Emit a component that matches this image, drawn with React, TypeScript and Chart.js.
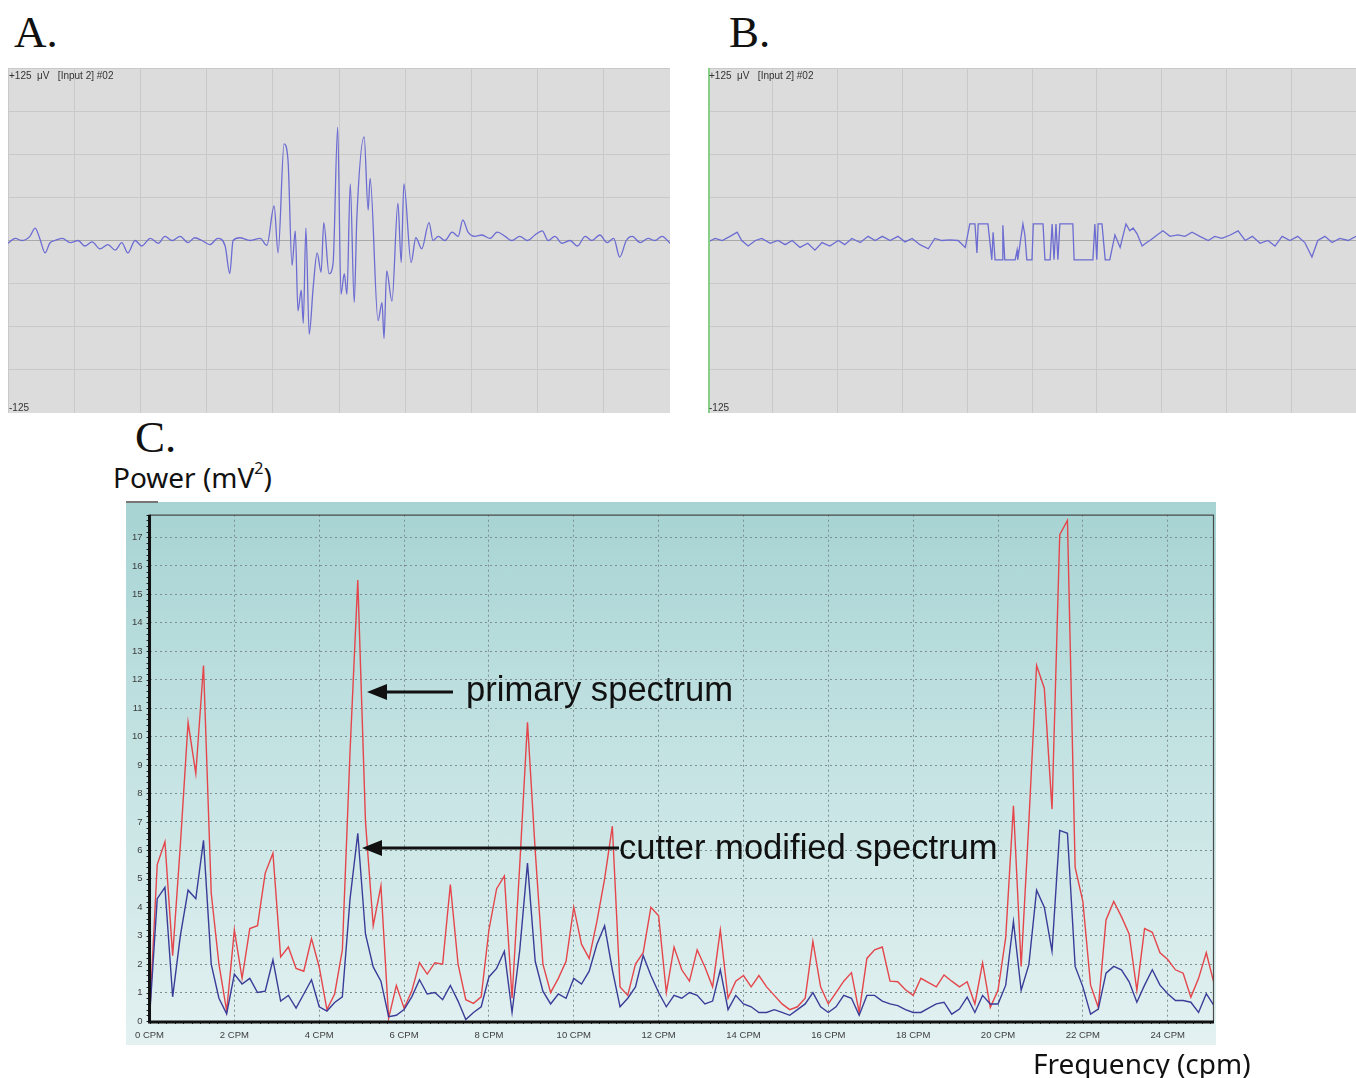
import React, { useEffect, useRef } from 'react';
import { Chart, registerables } from 'chart.js';

Chart.register(...registerables);

// ---------- Panel A: raw trace (time in grid divisions, amplitude in µV) ----------
const traceATime = [
  0.00, 0.11, 0.21, 0.33, 0.41, 0.48, 0.56, 0.63, 0.71, 0.82,
  0.94, 1.06, 1.16, 1.27, 1.39, 1.51, 1.62, 1.72, 1.81, 1.92,
  2.02, 2.15, 2.27, 2.37, 2.48, 2.60, 2.72, 2.82, 2.93, 3.05,
  3.17, 3.28, 3.35, 3.40, 3.50, 3.66, 3.81, 3.91, 4.02, 4.08,
  4.17, 4.23, 4.29, 4.34, 4.38, 4.43, 4.46, 4.50, 4.55, 4.61,
  4.67, 4.73, 4.77, 4.85, 4.91, 4.98, 5.03, 5.08, 5.12, 5.17,
  5.23, 5.27, 5.38, 5.44, 5.47, 5.59, 5.65, 5.68, 5.72, 5.80,
  5.89, 5.94, 5.98, 6.09, 6.16, 6.25, 6.36, 6.42, 6.50, 6.60,
  6.71, 6.80, 6.87, 6.95, 7.05, 7.16, 7.28, 7.39, 7.51, 7.61,
  7.73, 7.85, 7.96, 8.07, 8.16, 8.26, 8.37, 8.49, 8.60, 8.72,
  8.82, 8.94, 9.05, 9.15, 9.24, 9.34, 9.43, 9.55, 9.67, 9.77,
  9.88, 10.0,
];
const traceAVolt = [
  -2, 1.5, 0, 3, 9, 1.5, -9, -2, 0, 1.5,
  -1.5, 0, -4, -1, -6, -3, -7, -1.5, -9, 0,
  -4, 1.5, -2, 3, 0, 3, -1.5, 2, 0, -3,
  1.5, -4, -24, 0, 2, 0, 1.5, -3.6, 25, -9,
  70, 58, -18, 7, -51, -36, -60, 9, -68, -34,
  -9, -23, 13, -24, -17, 82, -39, -24, -39, 41,
  -45, 17, 75, 22, 45, -58, -45, -71, -22, -44,
  27, -16, 41, -16, 2, -6, 13, 0, 3, 0,
  6, 3, 15, 6, 3, 4, 1.5, 6, 3, 0,
  3, 0, 4, 7, 0, 3, -2, 0, -4, 3,
  0, 4, -1.5, 1.5, -12, 0, 3, -1.5, 1.5, 0,
  3, -2,
];

// ---------- Panel B: cutter-modified trace ----------
const traceBTime = [
  0.00, 0.11, 0.22, 0.34, 0.45, 0.52, 0.62, 0.73, 0.83, 0.96,
  1.08, 1.19, 1.30, 1.42, 1.54, 1.65, 1.76, 1.88, 2.01, 2.11,
  2.22, 2.35, 2.47, 2.58, 2.69, 2.81, 2.93, 3.04, 3.15, 3.27,
  3.40, 3.50, 3.61, 3.73, 3.86, 3.97, 4.04, 4.12, 4.15, 4.17,
  4.32, 4.38, 4.40, 4.43, 4.54, 4.55, 4.58, 4.74, 4.77, 4.78,
  4.86, 4.89, 4.92, 5.00, 5.02, 5.17, 5.20, 5.28, 5.31, 5.34,
  5.37, 5.40, 5.43, 5.63, 5.65, 5.94, 5.97, 6.00, 6.02, 6.08,
  6.13, 6.20, 6.28, 6.36, 6.45, 6.51, 6.56, 6.62, 6.70, 6.77,
  6.82, 6.93, 7.02, 7.13, 7.25, 7.36, 7.47, 7.59, 7.72, 7.82,
  7.93, 8.06, 8.18, 8.29, 8.40, 8.52, 8.64, 8.75, 8.86, 8.98,
  9.10, 9.21, 9.32, 9.41, 9.52, 9.63, 9.75, 9.88, 10.0,
];
const traceBVolt = [
  -1, 1.5, 0, 3, 6, 0, -4, 0, 1.5, -2,
  0, -3, 0, -5, -2, -7, -1.5, -4, 0, -3,
  1.5, -1.5, 3, 0, 3, 0, 3, -1, 1.5, -3,
  -6, 1.5, 0, 0.5, 0, -5, 12, 12, -9, 12,
  12, -14, 6, -14, -14, 11, -14, -14, -7, -14,
  12, 4, -14, -14, 12, 12, -14, -14, 12, -14,
  12, -14, 12, 12, -14, -14, 12, -14, 12, 12,
  -14, -14, 4, -5, 12, 7, 9, 5, -4, -1.5,
  0, 4, 7, 3, 4, 3, 6, 3, 0, 3,
  1.5, 4, 7, 0, 3, -2, 0, -4, 3, 0,
  3, -1.5, -12, 0, 3, -1.5, 1.5, 0, 3,
];

// ---------- Panel C: power spectra (mV²), one value per frequency bin ----------
const FREQ_RESOLUTION_CPM = 2 / 11;
const xTickCpm = [0, 2, 4, 6, 8, 10, 12, 14, 16, 18, 20, 22, 24];
const primarySpectrum = [
  0.1, 5.5, 6.3, 2.3, 6.2, 10.5, 8.7, 12.5, 4.5, 2.0,
  0.35, 3.2, 1.5, 3.25, 3.35, 5.2, 5.9, 2.25, 2.6, 1.85,
  1.75, 2.9, 1.9, 0.4, 0.95, 2.5, 9.5, 15.5, 7.0, 3.35,
  4.75, 0.1, 1.25, 0.45, 1.05, 2.05, 1.65, 2.05, 2.0, 4.8,
  2.0, 0.75, 0.62, 0.85, 3.2, 4.65, 5.1, 0.8, 5.5, 10.5,
  6.0, 2.0, 1.0, 1.5, 2.1, 4.0, 2.7, 2.2, 3.5, 5.0,
  6.85, 1.2, 0.9, 2.0, 2.4, 4.0, 3.7, 1.0, 2.6, 1.8,
  1.4, 2.5, 1.9, 1.2, 3.2, 0.8, 1.4, 1.6, 1.2, 1.6,
  1.2, 0.9, 0.6, 0.4, 0.5, 0.8, 2.8, 1.2, 0.6, 1.0,
  1.4, 1.7, 0.3, 2.2, 2.5, 2.6, 1.4, 1.38, 1.1, 0.9,
  1.5, 1.35, 1.2, 1.62, 1.4, 1.2, 1.38, 0.6, 2.04, 0.48,
  1.08, 2.94, 7.57, 1.92, 7.0, 12.5, 11.7, 7.45, 17.1, 17.6,
  5.4, 4.2, 1.26, 0.48, 3.55, 4.2, 3.67, 3.06, 1.08, 3.25,
  3.12, 2.4, 2.16, 1.8, 1.68, 0.84, 1.5, 2.4, 1.32,
];
const cutterSpectrum = [
  0.1, 4.3, 4.7, 0.85, 3.0, 4.6, 4.3, 6.35, 2.0, 0.8,
  0.25, 1.65, 1.3, 1.5, 1.0, 1.05, 2.15, 0.7, 0.9, 0.45,
  0.95, 1.45, 0.5, 0.35, 0.65, 0.85, 4.3, 6.6, 3.05, 1.9,
  1.4, 0.15, 0.2, 0.4, 0.85, 1.45, 0.95, 1.0, 0.75, 1.25,
  0.7, 0.05, 0.3, 0.5, 1.55, 1.85, 2.45, 0.3, 2.5, 5.55,
  2.1, 1.05, 0.6, 0.95, 0.8, 1.5, 1.3, 1.75, 2.7, 3.35,
  1.8, 0.5, 0.8, 1.2, 2.3, 1.6, 1.0, 0.5, 0.9, 0.8,
  1.0, 0.9, 0.6, 0.7, 1.8, 0.4, 0.9, 0.6, 0.5, 0.3,
  0.3, 0.4, 0.3, 0.2, 0.4, 0.6, 1.0, 0.5, 0.3, 0.5,
  0.9, 0.8, 0.2, 0.9, 0.9, 0.7, 0.6, 0.54, 0.4, 0.3,
  0.3, 0.45, 0.6, 0.66, 0.24, 0.42, 0.84, 0.3, 0.9, 0.6,
  0.6, 1.26, 3.5, 1.08, 1.98, 4.6, 4.0, 2.46, 6.7, 6.6,
  1.92, 1.2, 0.24, 0.42, 1.68, 1.92, 1.8, 1.38, 0.66, 1.26,
  1.8, 1.26, 0.96, 0.72, 0.72, 0.66, 0.3, 0.96, 0.54,
];

const TRACE_COLOR = '#6c6cd2';
const RED = '#e4464b';
const NAVY = '#3a3c98';

function traceConfig(times: number[], volts: number[], smooth: boolean): any {
  return {
    type: 'line',
    data: {
      datasets: [
        {
          data: times.map((t, i) => ({ x: t, y: volts[i] })),
          borderColor: TRACE_COLOR,
          borderWidth: 1.3,
          pointRadius: 0,
          tension: smooth ? 0.3 : 0,
          cubicInterpolationMode: smooth ? 'monotone' : 'default',
        },
      ],
    },
    options: {
      animation: false,
      responsive: false,
      events: [],
      layout: { padding: 0 },
      plugins: { legend: { display: false }, tooltip: { enabled: false } },
      scales: {
        x: {
          type: 'linear', min: 0, max: 10,
          ticks: { display: false, stepSize: 1 },
          grid: { color: '#c9c9c9', drawTicks: false },
          border: { display: false },
          afterFit: (s: any) => { s.height = 0; },
        },
        y: {
          type: 'linear', min: -125, max: 125,
          ticks: { display: false, stepSize: 31.25 },
          grid: { color: (c: any) => (c.tick && c.tick.value === 0 ? '#a9a9a9' : '#c9c9c9'), drawTicks: false },
          border: { display: false },
          afterFit: (s: any) => { s.width = 0; },
        },
      },
    },
  };
}

const framePlugin = {
  id: 'frame',
  afterDatasetsDraw(chart: any) {
    const { ctx, chartArea } = chart;
    const { left, right, top, bottom } = chartArea;
    const xs = chart.scales.x;
    const ys = chart.scales.y;
    ctx.save();
    ctx.strokeStyle = '#4a4a4a';
    ctx.lineWidth = 1.2;
    ctx.beginPath();
    ctx.moveTo(left, top + 0.5);
    ctx.lineTo(right - 0.5, top + 0.5);
    ctx.lineTo(right - 0.5, bottom);
    ctx.stroke();
    ctx.strokeStyle = '#222';
    ctx.lineWidth = 1;
    ctx.beginPath();
    for (let v = 0; v <= ys.max; v += 0.2) {
      const y = Math.round(ys.getPixelForValue(v)) + 0.5;
      ctx.moveTo(left - 3, y);
      ctx.lineTo(left, y);
    }
    for (let v = 0; v <= xs.max; v += 0.2) {
      const x = Math.round(xs.getPixelForValue(v)) + 0.5;
      ctx.moveTo(x, bottom);
      ctx.lineTo(x, bottom + 3);
    }
    ctx.stroke();
    ctx.strokeStyle = '#111';
    ctx.lineWidth = 3;
    ctx.beginPath();
    ctx.moveTo(left, top);
    ctx.lineTo(left, bottom + 1);
    ctx.lineTo(right, bottom + 1);
    ctx.stroke();
    ctx.restore();
  },
};

export default function App() {
  const refA = useRef<HTMLCanvasElement>(null);
  const refB = useRef<HTMLCanvasElement>(null);
  const refC = useRef<HTMLCanvasElement>(null);

  useEffect(() => {
    const charts: Chart[] = [];
    if (refA.current) charts.push(new Chart(refA.current, traceConfig(traceATime, traceAVolt, true)));
    if (refB.current) charts.push(new Chart(refB.current, traceConfig(traceBTime, traceBVolt, false)));
    if (refC.current) {
      const freqs = primarySpectrum.map((_, i) => i * FREQ_RESOLUTION_CPM);
      charts.push(
        new Chart(refC.current, {
          type: 'line',
          data: {
            datasets: [
              {
                label: 'cutter modified spectrum',
                data: freqs.map((f, i) => ({ x: f, y: cutterSpectrum[i] })),
                borderColor: NAVY,
                borderWidth: 1.4,
                pointRadius: 0,
                tension: 0,
              },
              {
                label: 'primary spectrum',
                data: freqs.map((f, i) => ({ x: f, y: primarySpectrum[i] })),
                borderColor: RED,
                borderWidth: 1.4,
                pointRadius: 0,
                tension: 0,
              },
            ],
          },
          options: {
            animation: false,
            responsive: false,
            events: [],
            layout: { padding: { top: 12, right: 4, left: 0, bottom: 0 } },
            plugins: { legend: { display: false }, tooltip: { enabled: false } },
            scales: {
              x: {
                type: 'linear',
                min: 0,
                max: (primarySpectrum.length - 1) * FREQ_RESOLUTION_CPM,
                afterBuildTicks: (s: any) => { s.ticks = xTickCpm.map((v) => ({ value: v })); },
                ticks: {
                  includeBounds: false,
                  maxRotation: 0,
                  autoSkip: false,
                  padding: 9,
                  color: '#3d3d3d',
                  font: { family: 'Liberation Sans', size: 9.5 },
                  callback: (v: any) => `${v} CPM`,
                },
                grid: { color: '#7d8f90', lineWidth: 1, drawTicks: false },
                border: { display: false, dash: [2, 3] },
                afterFit: (s: any) => { s.height = 26; },
              },
              y: {
                type: 'linear',
                min: 0,
                max: 17.8,
                ticks: {
                  stepSize: 1,
                  includeBounds: false,
                  padding: 7,
                  color: '#3d3d3d',
                  font: { family: 'Liberation Sans', size: 9.5 },
                },
                grid: { color: '#7d8f90', lineWidth: 1, drawTicks: false },
                border: { display: false, dash: [2, 3] },
                afterFit: (s: any) => { s.width = 22; },
              },
            },
          },
          plugins: [framePlugin],
        })
      );
    }
    return () => charts.forEach((c) => c.destroy());
  }, []);

  const serif: React.CSSProperties = { position: 'absolute', fontFamily: '"Liberation Serif", "DejaVu Serif", serif', fontSize: 45, lineHeight: 1, color: '#111' };
  const small: React.CSSProperties = { position: 'absolute', fontFamily: '"Liberation Sans", Arial, sans-serif', fontSize: 10, color: '#333', whiteSpace: 'pre', lineHeight: 1 };
  const annot: React.CSSProperties = { position: 'absolute', fontFamily: '"Liberation Sans", Arial, sans-serif', fontSize: 34.6, color: '#111', whiteSpace: 'pre', lineHeight: 1 };
  const axisTitle: React.CSSProperties = { position: 'absolute', fontFamily: '"Noto Sans", "Open Sans", sans-serif', fontSize: 28, color: '#111', whiteSpace: 'pre', lineHeight: 1 };

  return (
    <div style={{ position: 'absolute', left: 0, top: 0, width: 1356, height: 1078, background: '#fff', overflow: 'hidden' }}>
      <div style={{ ...serif, left: 14, top: 10 }}>A.</div>
      <div style={{ ...serif, left: 729, top: 10 }}>B.</div>
      <div style={{ ...serif, left: 135, top: 415 }}>C.</div>

      <canvas ref={refA} width={662} height={345} style={{ position: 'absolute', left: 8, top: 68, background: '#dcdcdc' }} />
      <div style={{ ...small, left: 9, top: 71 }}>{'+125  μV   [Input 2] #02'}</div>
      <div style={{ ...small, left: 9, top: 403 }}>-125</div>

      <canvas ref={refB} width={648} height={345} style={{ position: 'absolute', left: 708, top: 68, background: '#dcdcdc' }} />
      <div style={{ position: 'absolute', left: 708, top: 68, width: 2, height: 345, background: '#86cf86' }} />
      <div style={{ ...small, left: 709, top: 71 }}>{'+125  μV   [Input 2] #02'}</div>
      <div style={{ ...small, left: 709, top: 403 }}>-125</div>

      <div style={{ ...axisTitle, left: 113, top: 463 }}>
        Power (mV<sup style={{ fontSize: 16, verticalAlign: 'top', position: 'relative', top: -3 }}>2</sup>)
      </div>
      <div
        style={{
          position: 'absolute', left: 126, top: 502, width: 1090, height: 543,
          background: 'linear-gradient(to bottom, #a7d3d3 0%, #c3e2e2 45%, #e3f1f1 100%)',
        }}
      />
      <div style={{ position: 'absolute', left: 126, top: 501, width: 32, height: 2, background: '#777' }} />
      <canvas ref={refC} width={1092} height={545} style={{ position: 'absolute', left: 126, top: 502 }} />
      <div style={{ ...axisTitle, left: 1033, top: 1049 }}>Frequency (cpm)</div>

      <svg width={1356} height={1078} style={{ position: 'absolute', left: 0, top: 0, pointerEvents: 'none' }}>
        <line x1={453} y1={692} x2={382} y2={692} stroke="#111" strokeWidth={3} />
        <polygon points="367,692 387,684 387,700" fill="#111" />
        <line x1={619} y1={848} x2={378} y2={848} stroke="#111" strokeWidth={3} />
        <polygon points="362,848 382,840 382,856" fill="#111" />
      </svg>
      <div style={{ ...annot, left: 466, top: 672 }}>primary spectrum</div>
      <div style={{ ...annot, left: 619, top: 830 }}>cutter modified spectrum</div>
    </div>
  );
}
